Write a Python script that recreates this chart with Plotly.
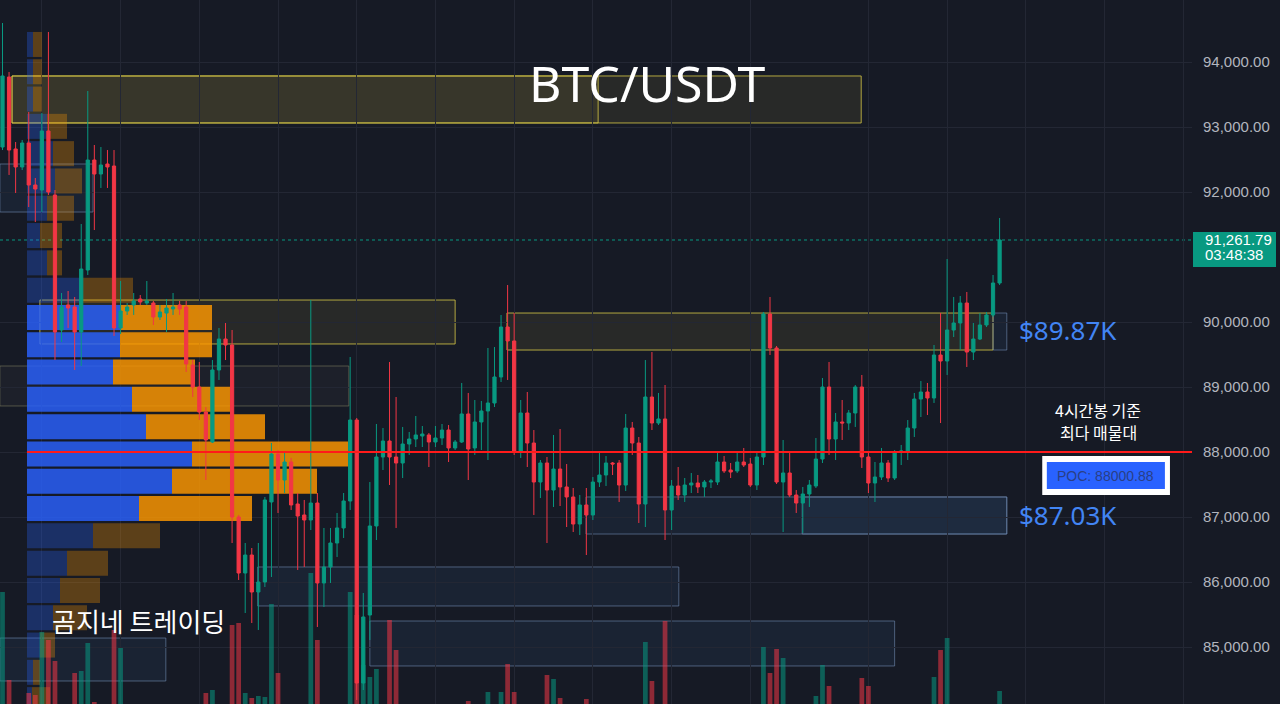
import plotly.graph_objects as go

# ---------------- data ----------------
candle_idx = list(range(153))
opens = [92692,93769,92662,92385,92754,92108,92031,92939,91954,89877,
         90262,90231,89846,90800,92492,92277,92431,92400,89908,90169,
         90262,90354,90292,90292,90077,90138,90200,90262,90231,89338,
         89000,88615,88154,89262,89738,89646,87000,86138,86415,85846,
         86000,87231,87969,87569,87846,87200,87031,86954,87215,85985,
         86231,86600,86831,87246,88492,84446,85492,86862,87923,88169,
         87923,87831,88123,88200,88246,88262,88154,88215,88338,88062,
         88154,88585,88062,88462,88631,88754,89154,89923,89708,88015,
         88600,88138,87538,87831,87415,87738,87462,87308,86892,87185,
         87031,87538,87646,87831,87831,87492,88369,88138,87200,88846,
         88446,88508,87108,87477,87338,87492,87523,87462,87538,87538,
         87846,87723,87708,87846,87815,87492,87923,90123,89600,87538,
         87677,87338,87215,87354,87477,87892,89000,88200,88462,88446,
         88600,89000,87923,87523,87615,87831,87600,88000,88000,88369,
         88815,88923,88831,89492,89400,89877,89985,90292,89538,89738,
         89954,90108,90600]
highs = [94600,93846,92769,92800,93231,92215,93215,94462,92031,90446,
         90477,90385,91508,93554,92723,92692,92646,92646,90631,90292,
         90446,90415,90631,90323,90262,90354,90446,90323,90323,89415,
         89385,88692,89415,89908,89985,89877,87031,86600,86523,86600,
         87308,88138,88031,87985,87908,87369,87262,90338,87369,86831,
         86831,87062,87369,89462,88523,85831,87538,88431,88369,89385,
         88846,88385,88308,88554,88400,88292,88400,88431,88415,88185,
         89062,88908,88800,88785,89600,89615,90108,90569,90138,88800,
         88923,88338,87877,87923,88262,88354,87815,87446,87338,87446,
         87615,88015,87938,87846,87877,88585,88462,88231,89415,89538,
         88908,89031,87569,87769,87600,87677,87646,87569,87585,87985,
         87938,87831,87985,88062,87908,88000,90154,90385,89631,88185,
         87985,87415,87462,87569,88215,89138,89385,88600,88800,88646,
         89031,89185,88000,87846,88062,87877,88031,88108,88492,88908,
         89092,89062,89646,90138,90969,90385,90400,90462,89985,90138,
         90154,90723,91600]
lows = [92646,92262,91985,92338,91769,91538,91692,91954,89415,89692,
        89908,89262,89323,90723,91415,92062,92062,89785,89815,90108,
        90108,90262,90262,89954,90031,89846,90108,90108,89231,88846,
        88492,87569,88138,89108,89415,86600,86031,85523,85369,85262,
        85923,86077,87062,87369,87108,86185,86231,86800,85308,85615,
        85985,86385,86677,87108,84185,84338,85108,86646,87723,87492,
        86831,87600,87954,88077,88077,87769,88077,88108,87846,88031,
        88138,87569,87954,88031,87877,88692,89077,89108,87954,87908,
        87769,87031,87292,86600,87154,87169,86846,86769,86723,86415,
        86954,87462,87477,87646,87231,87400,87954,86908,86846,88338,
        88415,86646,86800,87262,87231,87369,87369,87308,87446,87492,
        87677,87600,87677,87769,87462,87415,87800,89492,87508,86769,
        87308,87062,86754,87154,87446,87831,87954,87877,88185,88338,
        88385,87754,87369,87231,87569,87538,87569,87800,87877,88231,
        88538,88569,88754,88446,89185,89769,89569,89308,89415,89723,
        89923,90077,90569]
closes = [93785,92646,92385,92754,92108,92046,92939,92000,89846,90231,
          90215,89846,90815,92492,92277,92415,92385,89908,90169,90231,
          90323,90308,90323,90077,90154,90215,90231,90200,89354,89000,
          88615,88185,89262,89738,89646,87000,86138,86415,85846,86000,
          87262,87969,87569,87846,87185,87015,86954,87215,85985,86231,
          86600,86831,87246,88492,84446,85462,86862,87923,88169,87923,
          87831,88123,88200,88262,88277,88154,88215,88338,88062,88154,
          88585,88046,88462,88631,88754,89154,89923,89708,88015,88600,
          88138,87538,87831,87415,87738,87462,87308,86892,87185,87031,
          87538,87646,87831,87815,87492,88369,88138,87200,88846,88446,
          88508,87108,87477,87338,87492,87523,87462,87538,87554,87846,
          87708,87692,87846,87800,87492,87923,90123,89600,87538,87677,
          87338,87215,87354,87492,87892,89000,88200,88462,88446,88600,
          89000,87923,87523,87615,87831,87600,88000,88015,88369,88815,
          88923,88831,89492,89400,89877,89985,90292,89538,89738,89954,
          90108,90600,91261.79]
volumes = [172,84,45,48,71,69,132,124,103,52,
           40,91,93,121,62,38,30,134,116,42,
           33,28,30,44,35,38,30,32,55,50,
           52,71,74,48,39,139,141,71,66,68,
           67,160,91,50,46,43,40,191,124,52,
           45,48,55,172,149,99,87,95,47,144,
           114,50,42,38,30,35,33,37,40,30,
           48,63,45,40,72,55,72,100,72,54,
           50,52,40,89,85,66,45,44,42,65,
           50,47,38,30,44,56,40,52,122,83,
           45,143,50,42,36,30,32,34,30,40,
           36,33,38,35,48,50,117,91,115,106,
           52,44,48,40,68,99,78,55,40,45,
           50,86,78,46,42,40,48,36,52,55,
           42,38,87,114,126,55,50,58,45,48,
           42,55,73]

# volume profile (price bins, buy / sell volume)
profile_levels = [94270,93850,93430,93010,92590,92170,91750,91330,90910,90490,
                  90070,89650,89230,88810,88390,87970,87550,87130,86710,86290,
                  85870,85450,85030,84610,84190]
profile_buy = [6,6,6,20,26,28,20,13,20,56,93,93,86,105,119,165,145,112,66,40,33,26,13,6,5]
profile_sell = [9,9,9,20,21,27,27,22,15,50,92,92,82,98,119,156,145,113,67,41,40,34,15,7,18]
value_area = [False]*10 + [True]*8 + [False]*7

# zones: (start idx, end idx, top price, bottom price, style)
zones = [
    (1.45, 130.9, 93785, 93062, 'yellow'),
    (1.45, 90.8, 93785, 93062, 'yellow'),
    (5.7, 69.0, 90338, 89662, 'yellow'),
    (-0.4, 52.8, 89323, 88708, 'grey'),
    (-0.4, 13.8, 92431, 91692, 'blue'),
    (76.9, 151.0, 90138, 89569, 'yellow'),
    (151.0, 153.1, 90138, 89569, 'blue'),
    (88.95, 153.1, 87308, 86738, 'blue'),
    (121.9, 153.1, 87308, 86738, 'blue'),
    (38.9, 103.1, 86231, 85631, 'blue'),
    (56.0, 136.0, 85400, 84708, 'blue'),
    (-0.4, 24.9, 85138, 84477, 'blue'),
]

poc_price = 88000.88
last_price = 91261.79
price_ticks = [85000, 86000, 87000, 88000, 89000, 90000, 92000, 93000, 94000]
time_grid = [6, 18, 30, 42, 54, 66, 78, 90, 102, 114, 132, 144, 156, 168, 180]

# ---------------- style ----------------
BG = '#161a25'
GRID = '#232734'
UP = '#089981'
DN = '#f23645'
Y0, Y1 = 84123, 94954
XI0, XI1 = -0.381, 181.33

fig = go.Figure()

buy_col = ['rgba(41,98,255,0.82)' if v else 'rgba(41,98,255,0.30)' for v in value_area]
sell_col = ['rgba(255,152,0,0.82)' if v else 'rgba(255,152,0,0.30)' for v in value_area]
fig.add_trace(go.Bar(orientation='h', y=profile_levels, x=profile_buy, width=385,
                     marker=dict(color=buy_col, line=dict(width=0)),
                     xaxis='x', yaxis='y', hoverinfo='skip', showlegend=False))
fig.add_trace(go.Bar(orientation='h', y=profile_levels, x=profile_sell, base=profile_buy, width=385,
                     marker=dict(color=sell_col, line=dict(width=0)),
                     xaxis='x', yaxis='y', hoverinfo='skip', showlegend=False))

vcol = ['rgba(8,153,129,0.55)' if c >= o else 'rgba(242,54,69,0.55)' for o, c in zip(opens, closes)]
fig.add_trace(go.Bar(x=candle_idx, y=volumes, width=0.72, marker=dict(color=vcol, line=dict(width=0)),
                     xaxis='x2', yaxis='y2', hoverinfo='skip', showlegend=False))

# POC line of the volume profile (from the profile's left edge to the right edge of the chart)
fig.add_trace(go.Scatter(x=[XI0 + 4.11, XI1], y=[poc_price, poc_price], mode='lines',
                         line=dict(color='#ff1a1a', width=2), xaxis='x2', yaxis='y3',
                         hoverinfo='skip', showlegend=False, cliponaxis=False))

fig.add_trace(go.Candlestick(x=candle_idx, open=opens, high=highs, low=lows, close=closes,
                             increasing=dict(line=dict(color=UP, width=1), fillcolor=UP),
                             decreasing=dict(line=dict(color=DN, width=1), fillcolor=DN),
                             whiskerwidth=0, xaxis='x2', yaxis='y3', showlegend=False))

shapes = []
styles = {
    'yellow': dict(line=dict(color='rgba(215,200,70,0.8)', width=1), fillcolor='rgba(160,150,60,0.13)'),
    'grey': dict(line=dict(color='rgba(150,150,110,0.45)', width=1), fillcolor='rgba(120,120,100,0.08)'),
    'blue': dict(line=dict(color='rgba(120,150,190,0.55)', width=1), fillcolor='rgba(60,90,140,0.14)'),
}
for x0, x1, top, bot, st in zones:
    shapes.append(dict(type='rect', xref='x2', yref='y', x0=x0, x1=x1, y0=bot, y1=top,
                       layer='below', **styles[st]))

# last-price line
shapes.append(dict(type='line', xref='x2', yref='y', x0=XI0, x1=XI1, y0=last_price, y1=last_price,
                   line=dict(color=UP, width=1, dash='dot'), layer='below'))
# POC label box
shapes.append(dict(type='rect', xref='x2', yref='y', x0=158.5, x1=177.97, y0=87338, y1=87938,
                   fillcolor='white', line=dict(width=0), layer='above'))
shapes.append(dict(type='rect', xref='x2', yref='y', x0=159.2, x1=177.2, y0=87431, y1=87846,
                   fillcolor='#2962ff', line=dict(width=0), layer='above'))
# last price tag
shapes.append(dict(type='rect', xref='paper', yref='y', x0=1193/1192, x1=1276/1192, y0=90846, y1=91385,
                   fillcolor=UP, line=dict(width=0), layer='above'))

annotations = [
    dict(text='BTC/USDT', xref='paper', yref='paper', x=0.5428, y=0.882, xanchor='center', yanchor='middle',
         showarrow=False, font=dict(family='Noto Sans', size=50, color='white')),
    dict(text='곰지네 트레이딩', xref='paper', yref='paper', x=0.1166, y=0.119, xanchor='center',
         yanchor='middle', showarrow=False,
         font=dict(family='Noto Sans CJK KR', size=26, color='white')),
    dict(text='$89.87K', xref='x2', yref='y', x=154.65, y=89880, xanchor='left', yanchor='middle',
         showarrow=False, font=dict(family='Noto Sans', size=26, color='#4285f4')),
    dict(text='$87.03K', xref='x2', yref='y', x=154.65, y=87030, xanchor='left', yanchor='middle',
         showarrow=False, font=dict(family='Noto Sans', size=26, color='#4285f4')),
    dict(text='4시간봉 기준', xref='x2', yref='y', x=167.0, y=88640, xanchor='center',
         yanchor='middle', showarrow=False,
         font=dict(family='Noto Sans CJK KR', size=16, color='white')),
    dict(text='최다 매물대', xref='x2', yref='y', x=167.0, y=88310, xanchor='center',
         yanchor='middle', showarrow=False,
         font=dict(family='Noto Sans CJK KR', size=16, color='white')),
    dict(text='POC: 88000.88', xref='x2', yref='y', x=168.2, y=87638, showarrow=False,
         xanchor='center', yanchor='middle',
         font=dict(family='Liberation Sans', size=14, color='#2a3f86')),
    dict(text=f'{last_price:,.2f}', xref='paper', yref='y', x=1203/1192, y=91262, xanchor='left',
         yanchor='middle', showarrow=False, font=dict(family='Liberation Sans', size=15, color='white')),
    dict(text='03:48:38', xref='paper', yref='y', x=1203/1192, y=91031, xanchor='left',
         yanchor='middle', showarrow=False, font=dict(family='Liberation Sans', size=15, color='white')),
]

fig.update_layout(
    width=1280, height=704, autosize=False,
    margin=dict(l=0, r=88, t=0, b=0),
    paper_bgcolor=BG, plot_bgcolor=BG,
    barmode='overlay', showlegend=False, hovermode=False,
    xaxis=dict(range=[-27, 1165], visible=False, fixedrange=True),
    yaxis=dict(range=[Y0, Y1], side='right', tickvals=price_ticks,
               ticktext=[f'{t:,.2f}' for t in price_ticks],
               tickfont=dict(family='Liberation Sans', size=15, color='#b2b5be'),
               showgrid=True, gridcolor=GRID, gridwidth=1, zeroline=False, ticks='',
               ticklabelstandoff=10, showline=False),
    xaxis2=dict(overlaying='x', range=[XI0, XI1], tickvals=time_grid, showticklabels=False,
                showgrid=True, gridcolor=GRID, zeroline=False, ticks='',
                rangeslider=dict(visible=False)),
    yaxis2=dict(overlaying='y', range=[60, 764], visible=False),
    yaxis3=dict(overlaying='y', range=[Y0, Y1], visible=False),
    shapes=shapes, annotations=annotations,
)

fig.write_html("out.html", config={'displayModeBar': False},
               post_script="document.body.style.margin='0';document.body.style.background='#161a25';")
